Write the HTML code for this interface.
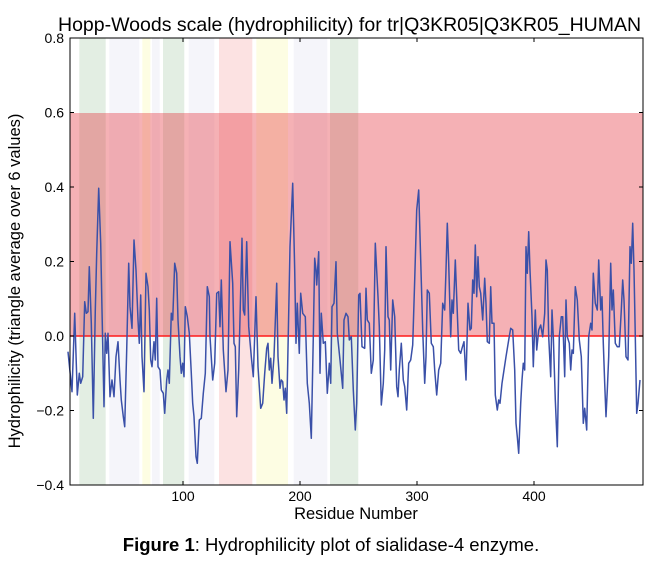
<!DOCTYPE html>
<html><head><meta charset="utf-8"><style>
body{margin:0;background:#fff;width:662px;height:565px;overflow:hidden;font-family:"Liberation Sans",sans-serif}
</style></head><body>
<svg id="s" width="662" height="565" xmlns="http://www.w3.org/2000/svg" font-family="Liberation Sans, sans-serif">
<text x="58" y="31" font-size="19.5" fill="#000">Hopp-Woods scale (hydrophilicity) for tr|Q3KR05|Q3KR05_HUMAN</text>
<g id="bands">
<rect x="79.3" y="38" width="26.4" height="447" fill="rgba(0,100,0,0.11)"/>
<rect x="109.3" y="38" width="30" height="447" fill="rgba(60,60,160,0.05)"/>
<rect x="142.3" y="38" width="8" height="447" fill="rgba(245,245,80,0.16)"/>
<rect x="152" y="38" width="7.7" height="447" fill="rgba(60,60,160,0.05)"/>
<rect x="163" y="38" width="21.3" height="447" fill="rgba(0,100,0,0.11)"/>
<rect x="188.7" y="38" width="25.6" height="447" fill="rgba(60,60,160,0.05)"/>
<rect x="219" y="38" width="33.3" height="447" fill="rgba(235,60,60,0.15)"/>
<rect x="256.3" y="38" width="31.7" height="447" fill="rgba(245,245,80,0.16)"/>
<rect x="293.7" y="38" width="33.6" height="447" fill="rgba(60,60,160,0.05)"/>
<rect x="330" y="38" width="28.3" height="447" fill="rgba(0,100,0,0.11)"/>
</g>
<rect x="70" y="113" width="573" height="223" fill="rgba(230,50,60,0.38)"/>
<line x1="70" y1="336" x2="643" y2="336" stroke="#ff1a1a" stroke-width="1.6"/>
<polyline id="pl" fill="none" stroke="#3a50a8" stroke-width="1.5" stroke-linejoin="round"/>
<rect x="70" y="38" width="573" height="447" fill="none" stroke="#000" stroke-width="1"/>
<g stroke="#000" stroke-width="1">
<line x1="183" y1="485" x2="183" y2="481"/><line x1="300" y1="485" x2="300" y2="481"/><line x1="417" y1="485" x2="417" y2="481"/><line x1="534" y1="485" x2="534" y2="481"/>
<line x1="183" y1="38" x2="183" y2="42"/><line x1="300" y1="38" x2="300" y2="42"/><line x1="417" y1="38" x2="417" y2="42"/><line x1="534" y1="38" x2="534" y2="42"/>
<line x1="70" y1="112.5" x2="74" y2="112.5"/><line x1="70" y1="187" x2="74" y2="187"/><line x1="70" y1="261.5" x2="74" y2="261.5"/><line x1="70" y1="336" x2="74" y2="336"/><line x1="70" y1="410.5" x2="74" y2="410.5"/>
<line x1="643" y1="112.5" x2="639" y2="112.5"/><line x1="643" y1="187" x2="639" y2="187"/><line x1="643" y1="261.5" x2="639" y2="261.5"/><line x1="643" y1="336" x2="639" y2="336"/><line x1="643" y1="410.5" x2="639" y2="410.5"/>
</g>
<g font-size="14" fill="#000" text-anchor="end">
<text x="64" y="43">0.8</text><text x="64" y="117.5">0.6</text><text x="64" y="192">0.4</text><text x="64" y="266.5">0.2</text><text x="64" y="341">0.0</text><text x="64" y="415.5">−0.2</text><text x="64" y="490">−0.4</text>
</g>
<g font-size="14" fill="#000" text-anchor="middle">
<text x="183" y="501">100</text><text x="300" y="501">200</text><text x="417" y="501">300</text><text x="534" y="501">400</text>
</g>
<text x="356" y="519" font-size="16.5" text-anchor="middle">Residue Number</text>
<text transform="translate(20,281) rotate(-90)" font-size="16.5" text-anchor="middle">Hydrophilicity (triangle average over 6 values)</text>
<text x="331" y="551" font-size="18.5" text-anchor="middle"><tspan font-weight="bold">Figure 1</tspan>: Hydrophilicity plot of sialidase-4 enzyme.</text>
</svg>
<script>
var z3=[0,545,12,665,20,430,28,675,34,610,38,640,44,620,50,395,55,430,60,425,64,290,70,460,76,745,82,420,86,250,92,55,98,220,102,420,108,710,112,490,116,550,120,490,126,680,132,630,138,680,144,560,150,515,156,630,160,690,166,740,170,770,176,540,182,280,186,410,192,475,198,210,204,300,210,450,214,520,218,375,222,560,228,665,234,310,240,350,244,420,248,570,252,590,258,515,262,570,266,385,270,590,276,600,280,660,286,670,290,730,296,630,300,600,304,640,310,430,314,450,320,280,326,310,330,450,336,560,340,610,344,580,348,620,352,410,358,440,364,490,370,610,374,700,378,740,384,860,388,880,394,750,400,745,406,670,412,610,418,350,424,380];
var z4=[0,500,8,630,14,580,20,370,26,365,30,470,34,330,40,540,48,665,54,600,60,215,68,340,72,520,76,530,80,740,86,600,96,205,100,420,104,435,110,215,116,470,124,560,130,620,138,380,144,590,152,715,158,700,164,610,170,535,174,520,178,600,182,565,186,640,192,560,200,340,204,560,210,655,214,630,218,635,222,690,226,655,230,730,236,430,240,230,248,40,254,300,258,520,262,400,268,550,272,370,278,430,286,440,292,640,298,700,304,805,310,500,314,265,318,300,320,345,326,245,330,610,334,430,340,520,346,515,352,670,358,580,362,640,366,410,372,400,378,275,382,490,390,570,398,655,402,450,408,430,414,440,418,510,424,500,430,660,436,780,440,700,446,375];
var z2=[0,370,6,530,14,535,18,355,22,450,28,460,34,610,40,570,46,220,54,380,58,470,64,705,70,640,74,540,78,230,84,440,88,450,92,600,98,390,104,440,110,650,114,680,118,600,124,520,130,630,134,650,140,720,146,580,152,570,158,525,164,330,170,120,176,60,182,270,188,480,194,640,198,560,202,360,208,370,214,520,220,530,224,600,230,675,236,600,242,580,248,400,254,420,258,300,262,160,266,280,272,500,276,390,280,430,286,270,290,380,296,540,302,550,306,535,312,515,318,630,324,400,330,480,334,475,338,330,342,370,346,225,350,380,354,260,358,350,362,370,368,450,374,325,378,400,382,515,388,520,392,350,396,460,402,460,406,675,412,720,416,690,420,700,426,640,432,600,438,560,446,510,452,475,458,480,464,600,468,760,472,800,476,850,482,700,486,630,490,580,494,600,498,230,502,310,506,185,510,300,516,440,520,590,526,420,530,540,536,480,542,465,548,500,554,430,558,270,562,300,566,500,572,620,576,420,580,500,586,690,592,830,598,500,604,440,608,440,614,620,618,390,622,500,628,520,632,600,636,540,640,550,646,350,652,390,658,510,664,560,670,760,674,715,680,780,686,500,692,460,696,480,700,310,706,400,712,420,716,270,722,420,726,380,730,520,734,640,738,740,742,660,746,560,752,280,756,420,760,360,766,520,772,530,778,530,784,420,788,330,792,390,798,560,804,570,810,230,814,280,818,160,822,300,826,500,830,730,834,700,840,630];
var pts=[];
function add(a,ox){for(var i=0;i<a.length;i+=2){pts.push((ox+a[i]/3).toFixed(1)+","+(170+a[i+1]/3).toFixed(1));}}
add(z3,68);add(z4,210);add(z2,360);
document.getElementById("pl").setAttribute("points",pts.join(" "));
</script>
</body></html>
